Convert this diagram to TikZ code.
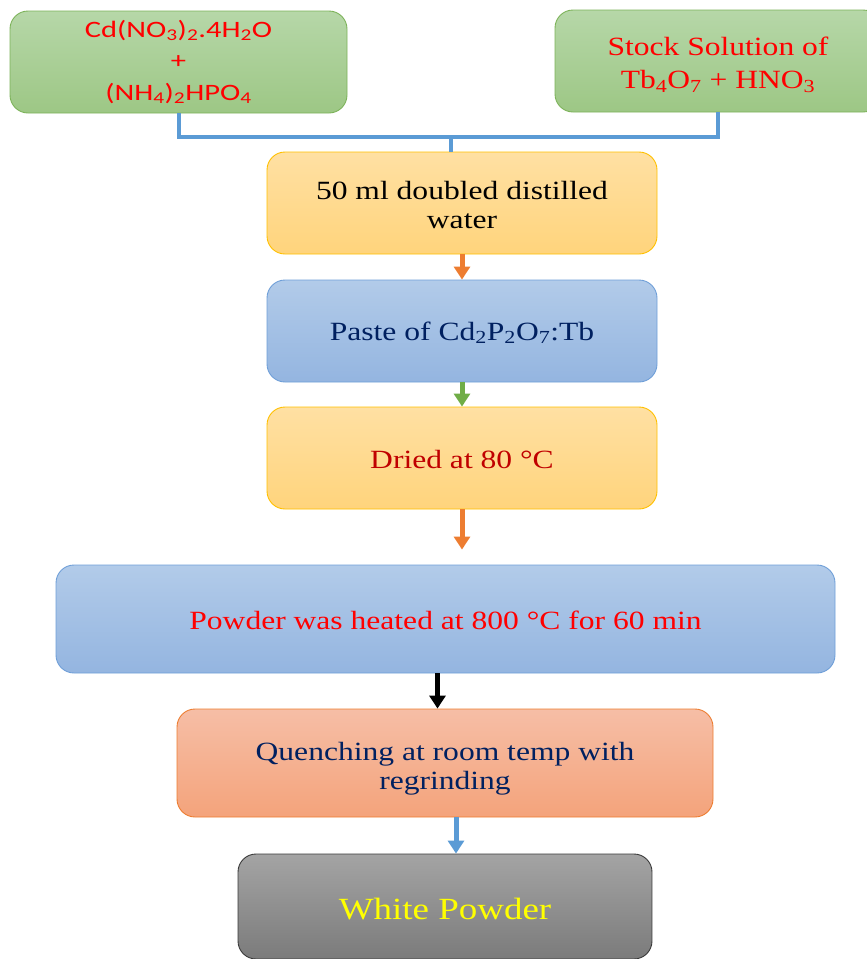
\documentclass[tikz,border=0pt]{standalone}
\usepackage{fontspec}
\setmainfont{Liberation Serif}[FakeStretch=1.2]
\newfontfamily\chemfont{Carlito}[FakeStretch=1.3]
\usetikzlibrary{arrows.meta}
\definecolor{grtop}{HTML}{B6D7A8}
\definecolor{grbot}{HTML}{9DC785}
\definecolor{grline}{HTML}{7DB35A}
\definecolor{yetop}{HTML}{FFE0A3}
\definecolor{yebot}{HTML}{FFD47C}
\definecolor{yeline}{HTML}{FFC000}
\definecolor{bltop}{HTML}{B2CBE9}
\definecolor{blbot}{HTML}{94B5E0}
\definecolor{blline}{HTML}{6F9FD8}
\definecolor{satop}{HTML}{F6BEA6}
\definecolor{sabot}{HTML}{F4A37B}
\definecolor{saline}{HTML}{ED7D31}
\definecolor{gytop}{HTML}{A4A4A4}
\definecolor{gybot}{HTML}{7B7B7B}
\definecolor{gyline}{HTML}{3A3A3A}
\definecolor{connblue}{HTML}{5B9BD5}
\definecolor{connorange}{HTML}{ED7D31}
\definecolor{conngreen}{HTML}{70AD47}
\definecolor{txtred}{HTML}{FF0000}
\definecolor{txtnavy}{HTML}{002060}
\definecolor{txtdark}{HTML}{C00000}
\definecolor{txtyellow}{HTML}{FFFF00}
\newcommand{\dropstrut}[1]{\rule{0pt}{#1}}
\begin{document}
\begin{tikzpicture}
[x=1pt,y=-1pt,
  flowbox/.style={rounded corners=18pt,line width=0.9pt,align=center,inner sep=0pt,
    font=\fontsize{26.3}{29}\selectfont},
  greenbox/.style={flowbox,draw=grline,top color=grtop,bottom color=grbot,minimum height=102pt},
  yellowbox/.style={flowbox,draw=yeline,top color=yetop,bottom color=yebot,minimum height=102pt},
  bluebox/.style={flowbox,draw=blline,top color=bltop,bottom color=blbot},
  salmonbox/.style={flowbox,draw=saline,top color=satop,bottom color=sabot},
  greybox/.style={flowbox,draw=gyline,top color=gytop,bottom color=gybot},
  joinline/.style={line width=4pt,draw=connblue},
  flowarrow/.style={line width=5pt,-{Triangle[width=16pt,length=13pt]}}]
\useasboundingbox (0,0) rectangle (867,959);
\clip (0,0) rectangle (867,959);
%% boxes
\node (mix) at (178.5,62) [greenbox,minimum width=337pt,
  font=\chemfont\fontsize{23.5}{31.5}\selectfont,text=txtred]
  {Cd(NO\textsubscript{3})\textsubscript{2}.4H\textsubscript{2}O\\+\\(NH\textsubscript{4})\textsubscript{2}HPO\textsubscript{4}};
\node (stock) at (718,61) [greenbox,minimum width=326pt,text=txtred,
  font=\fontsize{26.3}{33}\selectfont]
  {\dropstrut{26pt}Stock Solution of\\Tb\textsubscript{4}O\textsubscript{7} + HNO\textsubscript{3}};
\node (water) at (462,203) [yellowbox,minimum width=390pt,text=black]
  {\dropstrut{22pt}50 ml doubled distilled\\water};
\node (paste) at (462,331) [bluebox,minimum width=390pt,minimum height=102pt,text=txtnavy]
  {\dropstrut{22pt}Paste of Cd\textsubscript{2}P\textsubscript{2}O\textsubscript{7}:Tb};
\node (dried) at (462,458) [yellowbox,minimum width=390pt,text=txtdark]
  {\dropstrut{22pt}Dried at 80 °C};
\node (heat) at (445.5,619) [bluebox,minimum width=779pt,minimum height=108pt,text=txtred]
  {\dropstrut{22pt}Powder was heated at 800 °C for 60 min};
\node (quench) at (445,763) [salmonbox,minimum width=536pt,minimum height=108pt,text=txtnavy]
  {\dropstrut{30pt}Quenching at room temp with\\regrinding};
\node (white) at (445,906.5) [greybox,minimum width=414pt,minimum height=105pt,text=txtyellow,
  font=\fontsize{30.8}{32}\selectfont]
  {\dropstrut{27pt}White Powder};
%% connectors
\coordinate (joint) at (451,137);
\draw[joinline] (mix.south) |- (joint) -| (stock.south);
\draw[joinline] (joint) -- (joint |- water.north);
\draw[flowarrow,connorange] (water.south) -- (paste.north);
\draw[flowarrow,conngreen] (paste.south) -- (dried.north);
\draw[flowarrow,connorange,shorten >=15pt] (dried.south) -- (dried.south |- heat.north);
\draw[flowarrow,black] ([xshift=-8pt]heat.south) -- ([xshift=-8pt]heat.south |- quench.north);
\draw[flowarrow,connblue] ([xshift=11pt]quench.south) -- ([xshift=11pt]quench.south |- white.north);
\end{tikzpicture}
\end{document}
